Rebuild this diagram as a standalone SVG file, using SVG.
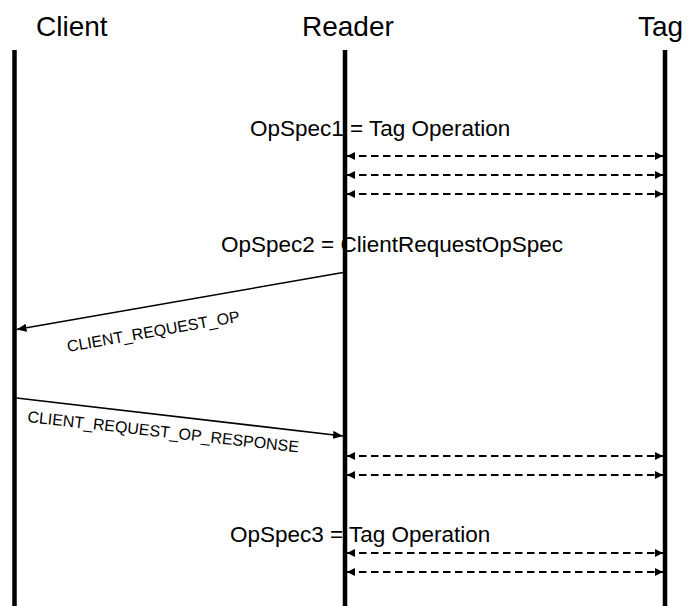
<svg xmlns="http://www.w3.org/2000/svg" width="688" height="606" viewBox="0 0 688 606">
  <style>
    .head { font-family: "Liberation Sans", Arial, sans-serif; font-size: 28px; fill: #000; }
    .note { font-family: "Liberation Sans", Arial, sans-serif; font-size: 22.5px; fill: #000; }
    .msg { font-family: "Liberation Sans", Arial, sans-serif; font-size: 16px; fill: #000; }
    .life { stroke: #000; stroke-width: 4.5; fill: none; }
    .call { stroke: #000; stroke-width: 1.6; fill: none; marker-end: url(#solidHead); }
    .tagop { stroke: #000; stroke-width: 1.8; stroke-dasharray: 7.5 4.5; fill: none;
             marker-start: url(#smallHead); marker-end: url(#smallHead); }
  </style>
  <defs>
    <marker id="solidHead" markerUnits="userSpaceOnUse" viewBox="0 0 10 8" refX="10" refY="4"
            markerWidth="10" markerHeight="8" orient="auto">
      <path d="M0,0 L10,4 L0,8 z" fill="#000"/>
    </marker>
    <marker id="smallHead" markerUnits="userSpaceOnUse" viewBox="0 0 8 8" refX="8" refY="4"
            markerWidth="8" markerHeight="8" orient="auto-start-reverse">
      <path d="M0,0 L8,4 L0,8 z" fill="#000"/>
    </marker>
  </defs>
  <rect width="688" height="606" fill="#fff"/>

  <!-- participants with their lifelines -->
  <g id="client">
    <text class="head" x="36" y="36">Client</text>
    <line class="life" x1="14.5" y1="50" x2="14.5" y2="606"/>
  </g>
  <g id="reader">
    <text class="head" x="302" y="36">Reader</text>
    <line class="life" x1="345" y1="50" x2="345" y2="606"/>
  </g>
  <g id="tag">
    <text class="head" x="638" y="36">Tag</text>
    <line class="life" x1="665" y1="50" x2="665" y2="606"/>
  </g>

  <!-- OpSpec annotations on the reader lifeline -->
  <g id="opspec1">
    <text class="note" x="250" y="136">OpSpec1 = Tag Operation</text>
  </g>
  <g id="opspec2">
    <text class="note" x="221" y="252">OpSpec2 = ClientRequestOpSpec</text>
  </g>
  <g id="opspec3">
    <text class="note" x="230" y="542">OpSpec3 = Tag Operation</text>
  </g>

  <!-- messages -->
  <g id="connectors">
    <line class="tagop" x1="347" y1="156" x2="663" y2="156"/>
    <line class="tagop" x1="347" y1="175" x2="663" y2="175"/>
    <line class="tagop" x1="347" y1="194" x2="663" y2="194"/>

    <line class="call" x1="343" y1="272.5" x2="16.5" y2="329.5"/>
    <text class="msg" transform="translate(68,352) rotate(-10)">CLIENT_REQUEST_OP</text>

    <line class="call" x1="16.5" y1="398" x2="343" y2="436"/>
    <text class="msg" transform="translate(27,422) rotate(6.4)">CLIENT_REQUEST_OP_RESPONSE</text>

    <line class="tagop" x1="347" y1="456" x2="663" y2="456"/>
    <line class="tagop" x1="347" y1="475" x2="663" y2="475"/>

    <line class="tagop" x1="347" y1="553" x2="663" y2="553"/>
    <line class="tagop" x1="347" y1="572" x2="663" y2="572"/>
  </g>
</svg>
